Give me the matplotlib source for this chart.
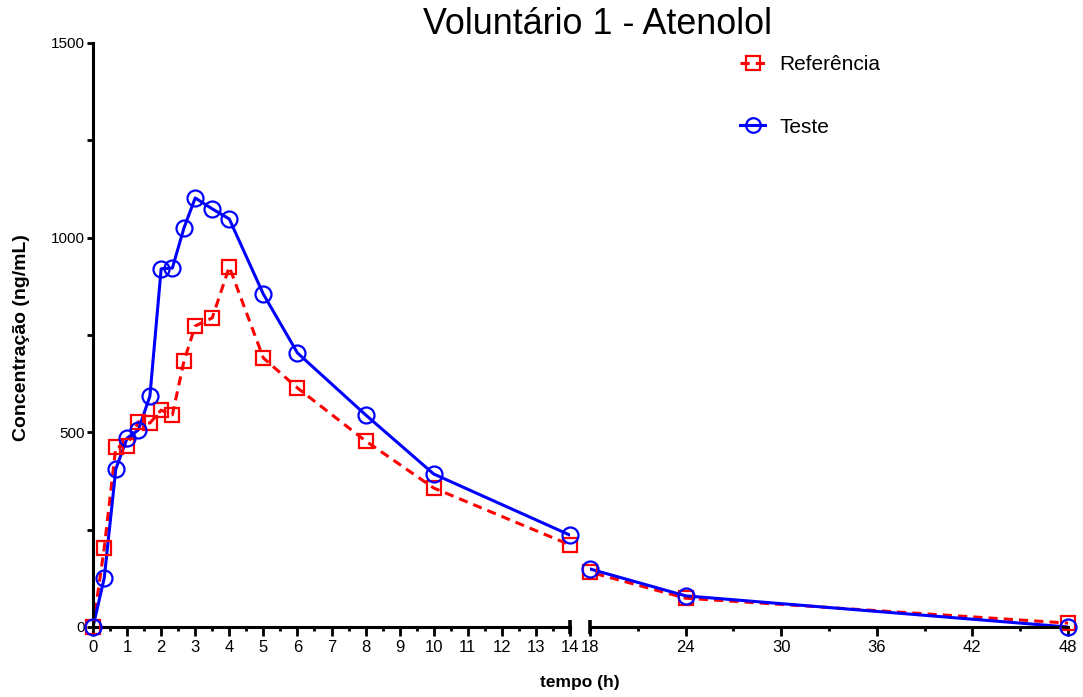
import numpy as np
import matplotlib
matplotlib.use('Agg')
import matplotlib.pyplot as plt
from matplotlib.lines import Line2D

plt.rcParams['font.family'] = ['Liberation Sans', 'DejaVu Sans']

# ---- data ----
tempo = np.array([0, 0.33, 0.67, 1, 1.33, 1.67, 2, 2.33, 2.67, 3, 3.5, 4, 5, 6, 8, 10, 14, 18, 24, 48])
referencia = np.array([0, 203, 462, 465, 527, 524, 557, 545, 683, 773, 794, 925, 691, 614, 478, 357, 211, 141, 74, 10])
teste = np.array([0, 126, 406, 485, 506, 593, 920, 922, 1025, 1102, 1074, 1048, 855, 704, 545, 393, 236, 149, 80, 0])

xticks_left = list(range(0, 15))
xticks_right = [18, 24, 30, 36, 42, 48]
yticks = [0, 500, 1000, 1500]

W, H = 1083, 697
fig = plt.figure(figsize=(W / 100, H / 100), dpi=100)

y0, y1 = 627, 43
axL = fig.add_axes([93 / W, (H - y0) / H, (570 - 93) / W, (y0 - y1) / H])
axR = fig.add_axes([590 / W, (H - y0) / H, (1068 - 590) / W, (y0 - y1) / H])

red = '#ff0000'
blue = '#0000ff'
lw = 2.2

for ax, lim in [(axL, (0, 14)), (axR, (18, 48))]:
    ax.set_xlim(*lim)
    ax.set_ylim(0, 1500)
    # lines (clipped at the break)
    ax.plot(tempo, referencia, color=red, lw=lw, dashes=(3, 2))
    ax.plot(tempo, teste, color=blue, lw=lw)
    m = (tempo >= lim[0]) & (tempo <= lim[1])
    ax.plot(tempo[m], referencia[m], ls='none', marker='s', ms=10.5, mfc='none',
            mec=red, mew=1.6, clip_on=False, zorder=5)
    ax.plot(tempo[m], teste[m], ls='none', marker='o', ms=11.5, mfc='none',
            mec=blue, mew=1.6, clip_on=False, zorder=6)
    for s in ['top', 'right']:
        ax.spines[s].set_visible(False)
    ax.spines['bottom'].set_linewidth(2.2)
    ax.spines['left'].set_linewidth(2.2)
    ax.tick_params(axis='x', which='major', length=6.5, width=2, labelsize=12, pad=3)
    ax.tick_params(axis='x', which='minor', length=3, width=2)
    # break marks
    edge = 1 if ax is axL else 0
    ax.plot([edge, edge], [-0.012, 0.012], transform=ax.transAxes, color='black',
            lw=2.6, clip_on=False, solid_capstyle='butt')

axL.set_xticks(xticks_left)
axL.set_xticks(np.arange(0.5, 14, 1), minor=True)
axL.set_yticks(yticks)
axL.set_yticks([250, 750, 1250], minor=True)
axL.tick_params(axis='y', which='both', length=4.5, width=2, labelsize=11, pad=1.5)

axR.set_xticks(xticks_right)
axR.set_xticks([21, 27, 33, 39, 45], minor=True)
axR.spines['left'].set_visible(False)
axR.set_yticks([])

fig.text(598 / W, 1 - 25 / H, 'Voluntário 1 - Atenolol', fontsize=25.8, ha='center', va='center')
fig.text(580 / W, 1 - 683 / H, 'tempo (h)', fontsize=12.5, fontweight='bold', ha='center', va='center')
fig.text(22 / W, 1 - 338 / H, 'Concentração (ng/mL)', fontsize=14, fontweight='bold',
         rotation=90, ha='center', va='center')

handles = [
    Line2D([], [], color=red, lw=lw, dashes=(3, 2), marker='s', ms=10, mfc='none', mec=red, mew=1.6),
    Line2D([], [], color=blue, lw=lw, marker='o', ms=10.5, mfc='none', mec=blue, mew=1.6),
]
fig.legend(handles, ['Referência', 'Teste'], loc='upper left',
           bbox_to_anchor=(740 / W, 1 - 55 / H), frameon=False, fontsize=15,
           handlelength=1.2, handletextpad=0.7, labelspacing=2.1, borderpad=0, borderaxespad=0)

fig.savefig('out.png', dpi=100)
